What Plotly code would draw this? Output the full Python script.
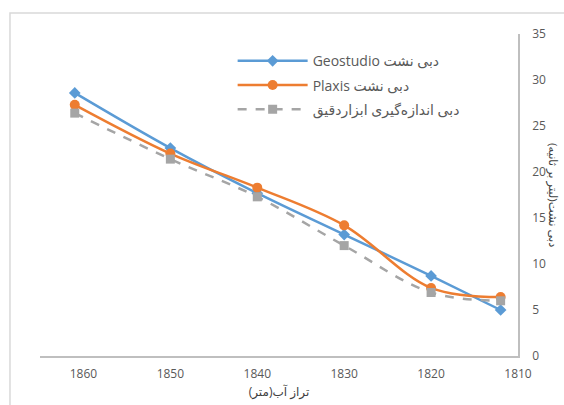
import plotly.graph_objects as go

# Water level (m) and seepage discharge (litres per second)
levels = [1861, 1850, 1840, 1830, 1820, 1812]
q_geostudio = [28.6, 22.6, 17.7, 13.2, 8.7, 5.0]
q_plaxis = [27.3, 22.0, 18.3, 14.2, 7.4, 6.4]
q_measured = [26.4, 21.4, 17.3, 12.0, 6.9, 6.0]

name_geo = "Geostudio دبی نشت"
name_plaxis = "Plaxis دبی نشت"
name_measured = "دبی اندازه‌گیری ابزاردقیق"

y_ticks = [0, 5, 10, 15, 20, 25, 30, 35]
x_ticks = [1860, 1850, 1840, 1830, 1820, 1810]

x_title = "تراز آب(متر)"
y_title = "دبی نشت(لیتر بر ثانیه)"

font_family = "Open Sans, DejaVu Sans, sans-serif"
grey_text = "#595959"

fig = go.Figure()
fig.add_trace(go.Scatter(
    x=levels, y=q_geostudio, name=name_geo, mode="lines+markers",
    line=dict(color="#5B9BD5", width=2.5, shape="spline", smoothing=1.0),
    marker=dict(symbol="diamond", size=9, color="#5B9BD5"),
    legendgroup="a",
))
fig.add_trace(go.Scatter(
    x=levels, y=q_plaxis, name=name_plaxis, mode="lines+markers",
    line=dict(color="#ED7D31", width=2.5, shape="spline", smoothing=1.0),
    marker=dict(symbol="circle", size=10, color="#ED7D31"),
    legendgroup="b",
))
fig.add_trace(go.Scatter(
    x=levels, y=q_measured, name=name_measured, mode="lines+markers",
    line=dict(color="#A5A5A5", width=2.5, dash="dash", shape="spline", smoothing=1.0),
    marker=dict(symbol="square", size=9, color="#A5A5A5"),
    legendgroup="c",
))

fig.update_layout(
    width=564, height=405,
    margin=dict(l=40, r=46, t=34, b=49),
    paper_bgcolor="white", plot_bgcolor="white",
    font=dict(family=font_family, size=12, color=grey_text),
    showlegend=True,
    legend=dict(
        x=0.403, y=0.965, xanchor="left", yanchor="top",
        bgcolor="rgba(0,0,0,0)", traceorder="grouped", tracegroupgap=3,
        itemwidth=70,
        font=dict(family=font_family, size=14, color=grey_text),
    ),
    xaxis=dict(
        range=[1865, 1810], tickvals=x_ticks, showgrid=False, zeroline=False,
        showline=True, linecolor="#BFBFBF", linewidth=1.5, automargin=False,
        ticks="outside", ticklen=6, tickcolor="rgba(0,0,0,0)",
        tickfont=dict(size=12, color=grey_text),
        title=dict(text=x_title, font=dict(size=12, color="#404040"), standoff=6),
    ),
    yaxis=dict(
        range=[0, 35], tickvals=y_ticks, side="right", showgrid=False, zeroline=False,
        showline=True, linecolor="#BFBFBF", linewidth=1.5, automargin=False,
        ticks="outside", ticklen=10, tickcolor="rgba(0,0,0,0)",
        tickfont=dict(size=12, color=grey_text),
    ),
    shapes=[dict(
        type="rect", xref="paper", yref="paper",
        x0=-0.0628, y0=-0.17, x1=1.12, y1=1.065,
        line=dict(color="#D9D9D9", width=1.5), layer="below",
    )],
    annotations=[dict(
        text=y_title, xref="paper", yref="paper", x=1.073, y=0.5,
        showarrow=False, textangle=90, xanchor="center", yanchor="middle",
        font=dict(size=11.5, color="#404040"),
    )],
)

fig.write_html("out.html")
